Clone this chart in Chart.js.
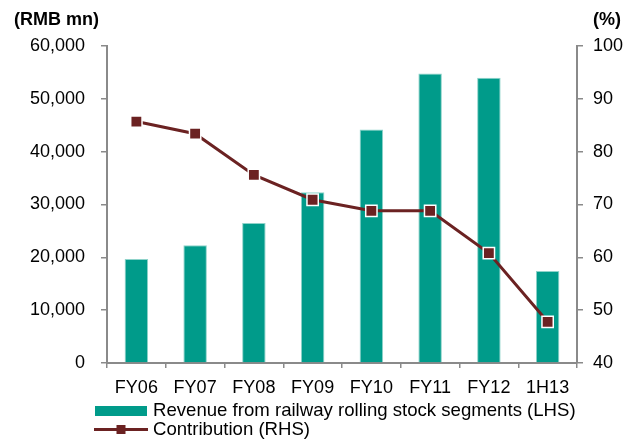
<!DOCTYPE html>
<html>
<head>
<meta charset="utf-8">
<script src="https://cdn.jsdelivr.net/npm/chart.js@4.4.1/dist/chart.umd.min.js"></script>
<style>
  body { margin: 0; background: #fff; }
  canvas { display: block; }
</style>
</head>
<body>
<canvas id="revChart" width="624" height="439"></canvas>
<script>
const categories = ['FY06', 'FY07', 'FY08', 'FY09', 'FY10', 'FY11', 'FY12', '1H13'];
const revenue = [19700, 22300, 26500, 32300, 44200, 54800, 54000, 17400];
const contribution = [85.7, 83.4, 75.6, 70.9, 68.8, 68.8, 60.8, 47.8];
const leftTicks = [0, 10000, 20000, 30000, 40000, 50000, 60000];
const rightTicks = [40, 50, 60, 70, 80, 90, 100];

const fontFamily = '"Liberation Sans", Arial, sans-serif';
const teal = '#009B8A';
const maroon = '#6B2222';
const axisGray = '#8A8A8A';

// titles above the axes and the two-row legend at the bottom
const extras = {
  id: 'extras',
  afterDraw(chart) {
    const ctx = chart.ctx;
    ctx.save();
    ctx.fillStyle = '#000';
    ctx.font = 'bold 18px ' + fontFamily;
    ctx.textBaseline = 'middle';
    ctx.textAlign = 'left';
    ctx.fillText('(RMB mn)', 14, 20);
    ctx.textAlign = 'right';
    ctx.fillText('(%)', 621, 20);

    const ds = chart.data.datasets;
    const bar = ds.find(d => d.type === 'bar');
    const line = ds.find(d => d.type === 'line');
    ctx.font = '18.6px ' + fontFamily;
    ctx.textAlign = 'left';

    ctx.fillStyle = bar.backgroundColor;
    ctx.fillRect(95, 406, 52, 10);
    ctx.fillStyle = '#000';
    ctx.fillText(bar.label, 153, 411);

    ctx.strokeStyle = line.borderColor;
    ctx.lineWidth = 3;
    ctx.beginPath();
    ctx.moveTo(94, 429.5);
    ctx.lineTo(148, 429.5);
    ctx.stroke();
    ctx.fillStyle = line.pointBackgroundColor;
    ctx.fillRect(116.5, 425, 9, 9);
    ctx.fillStyle = '#000';
    ctx.fillText(line.label, 153, 430);
    ctx.restore();
  }
};

new Chart(document.getElementById('revChart').getContext('2d'), {
  data: {
    labels: categories,
    datasets: [{
      type: 'line',
      label: 'Contribution (RHS)',
      data: contribution,
      yAxisID: 'yRight',
      borderColor: maroon,
      borderWidth: 3,
      pointStyle: 'rect',
      pointRadius: 8,
      pointBackgroundColor: maroon,
      pointBorderColor: '#fff',
      pointBorderWidth: 1.5,
      tension: 0,
      order: 0
    }, {
      type: 'bar',
      label: 'Revenue from railway rolling stock segments (LHS)',
      data: revenue,
      yAxisID: 'yLeft',
      backgroundColor: teal,
      borderColor: '#8FD3CA',
      borderWidth: 1,
      categoryPercentage: 1,
      barPercentage: 0.4,
      order: 1
    }]
  },
  options: {
    responsive: false,
    devicePixelRatio: 1,
    animation: false,
    layout: { padding: { top: 46, left: 0, right: 0, bottom: 0 } },
    plugins: {
      legend: { display: false },
      tooltip: { enabled: false }
    },
    scales: {
      x: {
        offset: true,
        grid: { offset: true, drawOnChartArea: false, drawTicks: true, tickLength: 5, color: axisGray, lineWidth: 1.5 },
        border: { color: axisGray, width: 2 },
        ticks: { color: '#000', font: { family: fontFamily, size: 18 }, padding: 9, maxRotation: 0 },
        afterFit: s => { s.height = 76; }
      },
      yLeft: {
        position: 'left',
        min: 0,
        max: 60000,
        afterBuildTicks: s => { s.ticks = leftTicks.map(v => ({ value: v })); },
        grid: { drawOnChartArea: false, tickLength: 6, color: axisGray, lineWidth: 1.5 },
        border: { color: axisGray, width: 2 },
        ticks: {
          color: '#000',
          font: { family: fontFamily, size: 18 },
          padding: 16,
          callback: v => v.toLocaleString('en-US')
        },
        afterFit: s => { s.width = 107; }
      },
      yRight: {
        position: 'right',
        min: 40,
        max: 100,
        afterBuildTicks: s => { s.ticks = rightTicks.map(v => ({ value: v })); },
        grid: { drawOnChartArea: false, tickLength: 6, color: axisGray, lineWidth: 1.5 },
        border: { color: axisGray, width: 2 },
        ticks: { color: '#000', font: { family: fontFamily, size: 18 }, padding: 10 },
        afterFit: s => { s.width = 47; }
      }
    }
  },
  plugins: [extras]
});
</script>
</body>
</html>
